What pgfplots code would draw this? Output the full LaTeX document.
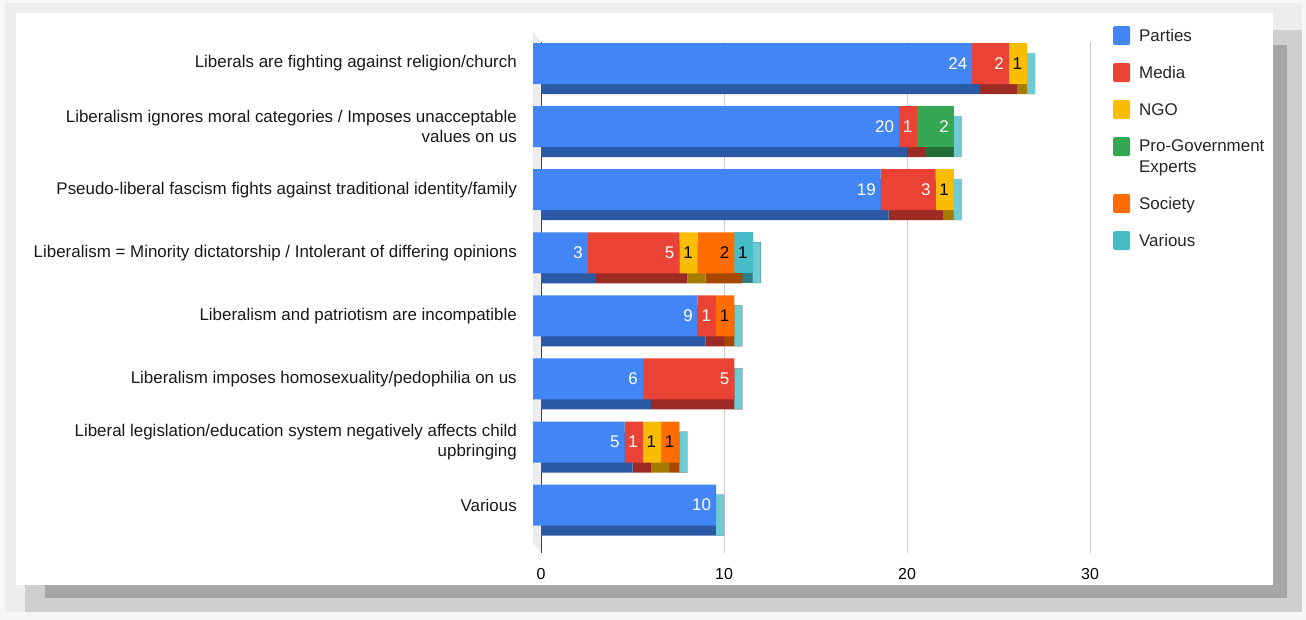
\documentclass[border=0pt]{standalone}
\usepackage{pgfplots}
\usepackage{pgfplotstable}
\pgfplotsset{compat=1.18}
\usepackage{fontspec}
\setmainfont{Liberation Sans}

\definecolor{cParties}{HTML}{4285F4}
\definecolor{cMedia}{HTML}{EA4335}
\definecolor{cNGO}{HTML}{FBBC04}
\definecolor{cGov}{HTML}{34A853}
\definecolor{cSociety}{HTML}{FF6D01}
\definecolor{cVarious}{HTML}{46BDC6}
\definecolor{dParties}{HTML}{2C59A5}
\definecolor{dMedia}{HTML}{9C2B25}
\definecolor{dNGO}{HTML}{A67C00}
\definecolor{dGov}{HTML}{226E38}
\definecolor{dSociety}{HTML}{A84800}
\definecolor{dVarious}{HTML}{2E7E84}
\definecolor{cCap}{HTML}{6FCBD3}

% cat 8 = top bar, 1 = bottom bar
\pgfplotstableread{
cat parties media ngo gov society various cap
8   24      2     1   0   0       0       0.44
7   20      1     0   2   0       0       0.44
6   19      3     1   0   0       0       0.44
5   3       5     1   0   2       1       0.44
4   9       1     0   0   1       0       0.44
3   6       5     0   0   0       0       0.44
2   5       1     1   0   1       0       0.44
1   10      0     0   0   0       0       0.44
}\claims

\pgfplotsset{
  /pgf/number format/assume math mode=true,
  % value label at the inner right end of each segment
  vals/.style 2 args={
    point meta=rawx,
    visualization depends on={\thisrow{#2} \as \segw},
    nodes near coords={\pgfmathfloatifflags{\pgfplotspointmeta}{0}{}{\pgfmathprintnumber{\pgfplotspointmeta}}},
    every node near coord/.append style={anchor=east, xshift={\segw*9.15bp-1.5bp}, text=#1,
      font=\fontsize{17}{20}\selectfont},
  },
  square legend/.style={legend image code/.code={%
    \fill[##1, rounded corners=1.5bp] (0bp,-9bp) rectangle (17bp,10bp); \path (24bp,0bp);}},
  high square legend/.style={legend image code/.code={%
    \fill[##1, rounded corners=1.5bp] (0bp,1bp) rectangle (17bp,20bp); \path (24bp,0bp);}},
}

\begin{document}
\begin{tikzpicture}[x=1bp,y=1bp]
% frame and shadow round the chart
\fill[black!3] (0,0) rectangle (1306,620);
\fill[black!7] (5,8) rectangle (1302,617);
\fill[black!19] (25,8) rectangle (1302,590);
\fill[black!35] (45,22) rectangle (1287,575);
\fill[white] (16,35) rectangle (1273,607);
% 3D wall left of the axis
\fill[black!7] (533,588) -- (541,578) -- (541,67) -- (533,77) -- cycle;

% back faces (bottom and side of the 3D bars), axis, grid, x ticks
\begin{axis}[
  at={(541bp,67bp)}, anchor=south west,
  width=549bp, height=511bp, scale only axis,
  xmin=0, xmax=30, ymin=0.4, ymax=8.5,
  xbar stacked, bar width=41bp,
  axis lines=left, axis line style={-},
  x axis line style={draw=none},
  y axis line style={draw=black!75, line width=0.8bp},
  xtick={0,10,20,30}, ytick=\empty, major tick length=0pt,
  xmajorgrids, grid style={black!20, line width=0.8bp},
  xticklabel style={font=\fontsize{16}{19}\selectfont, yshift=-12bp},
]
\addplot[fill=dParties, draw=none] table[x=parties, y=cat] {\claims};
\addplot[fill=dMedia, draw=none] table[x=media, y=cat] {\claims};
\addplot[fill=dNGO, draw=none] table[x=ngo, y=cat] {\claims};
\addplot[fill=dGov, draw=none] table[x=gov, y=cat] {\claims};
\addplot[fill=dSociety, draw=none] table[x=society, y=cat] {\claims};
\addplot[fill=dVarious, draw=none] table[x=various, y=cat] {\claims};
\end{axis}

% front faces, labels, legend
\begin{axis}[
  at={(533bp,77bp)}, anchor=south west,
  width=549bp, height=511bp, scale only axis,
  xmin=0, xmax=30, ymin=0.4, ymax=8.5,
  xbar stacked, bar width=41bp,
  axis line style={draw=none}, clip=false,
  xtick=\empty, ytick={1,...,8}, major tick length=0pt,
  yticklabels={
    Various,
    {Liberal legislation/education system negatively affects child\\upbringing},
    Liberalism imposes homosexuality/pedophilia on us,
    Liberalism and patriotism are incompatible,
    Liberalism = Minority dictatorship / Intolerant of differing opinions,
    Pseudo-liberal fascism fights against traditional identity/family,
    {Liberalism ignores moral categories / Imposes unacceptable\\values on us},
    Liberals are fighting against religion/church},
  yticklabel style={font=\fontsize{17}{20.5}\selectfont, align=right, inner sep=0pt, xshift=-16bp, text=black!90},
  legend style={at={(1.051,1.016)}, anchor=north west, draw=none, fill=none,
    font=\fontsize{17}{21}\selectfont, row sep=18bp, text=black!85,
    cells={anchor=west, align=left}},
  legend cell align=left,
  square legend,
]
\addplot[fill=cParties, draw=none, vals={white}{parties}] table[x=parties, y=cat] {\claims};
\addlegendentry{Parties}
\addplot[fill=cMedia, draw=none, vals={white}{media}] table[x=media, y=cat] {\claims};
\addlegendentry{Media}
\addplot[fill=cNGO, draw=none, vals={black}{ngo}] table[x=ngo, y=cat] {\claims};
\addlegendentry{NGO}
\addplot[fill=cGov, draw=none, vals={white}{gov}, high square legend] table[x=gov, y=cat] {\claims};
\addlegendentry{Pro-Government\\Experts}
\addplot[fill=cSociety, draw=none, vals={black}{society}] table[x=society, y=cat] {\claims};
\addlegendentry{Society}
\addplot[fill=cVarious, draw=none, vals={black}{various}] table[x=various, y=cat] {\claims};
\addlegendentry{Various}
% light end face of each bar
\addplot[fill=cCap, draw=none, bar shift=-10bp, forget plot] table[x=cap, y=cat] {\claims};
\end{axis}
\end{tikzpicture}
\end{document}
